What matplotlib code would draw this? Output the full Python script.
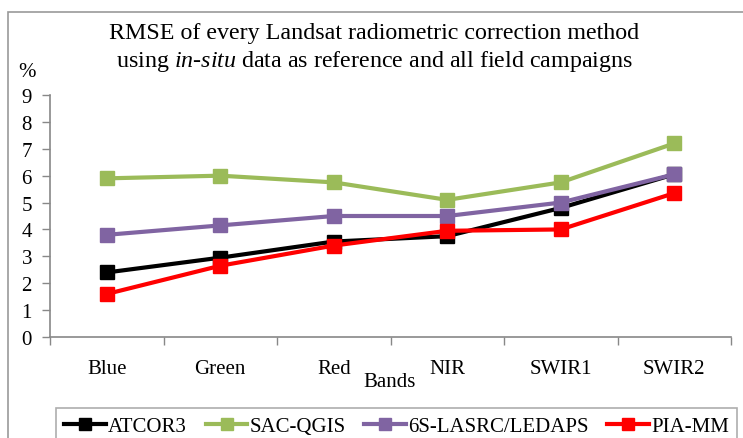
import matplotlib.pyplot as plt
import numpy as np
from matplotlib.patches import Rectangle

bands = ["Blue", "Green", "Red", "NIR", "SWIR1", "SWIR2"]
atcor3 = [2.4, 2.95, 3.55, 3.75, 4.8, 6.05]
sac_qgis = [5.9, 6.0, 5.75, 5.1, 5.75, 7.2]
lasrc = [3.8, 4.15, 4.5, 4.5, 5.0, 6.05]
pia_mm = [1.6, 2.65, 3.4, 3.95, 4.0, 5.35]

names = ["ATCOR3", "SAC-QGIS", "6S-LASRC/LEDAPS", "PIA-MM"]
colors = ["#000000", "#9BBB59", "#8064A2", "#FF0000"]

plt.rcParams['font.family'] = ['Liberation Serif', 'DejaVu Serif']
plt.rcParams['mathtext.fontset'] = 'custom'
plt.rcParams['mathtext.rm'] = 'Liberation Serif'
plt.rcParams['mathtext.it'] = 'Liberation Serif:italic'

fig = plt.figure(figsize=(7.43, 4.39), dpi=100)
ax = fig.add_axes([50/743, 1-338/439, 681/743, 242/439])

x = np.arange(len(bands))
for vals, name, c in zip([atcor3, sac_qgis, lasrc, pia_mm], names, colors):
    ax.plot(x, vals, color=c, lw=3, marker='s', ms=9.5, label=name)

ax.set_xlim(-0.5, 5.5)
ax.set_ylim(0, 9)
ax.set_yticks(range(10))
ax.set_xticks(x)
ax.set_xticklabels(bands, fontsize=15)
ax.set_xticks(np.arange(-0.5, 6, 1), minor=True)
ax.tick_params(axis='x', which='major', length=0, pad=16)
ax.tick_params(axis='x', which='minor', length=6, color='#888888', width=1)
ax.tick_params(axis='y', length=6, color='#888888', width=1, labelsize=15, pad=7)
for s in ['top', 'right']:
    ax.spines[s].set_visible(False)
for s in ['left', 'bottom']:
    ax.spines[s].set_color('#888888')
    ax.spines[s].set_linewidth(1.2)

fig.text(390/743, 1-383/439, "Bands", ha='center', va='center', fontsize=15)
fig.text(27/743, 1-73/439, "%", ha='center', va='center', fontsize=15)
fig.text(374/743, 1-33/439, "RMSE of every Landsat radiometric correction method",
         ha='center', va='center', fontsize=17.3)
fig.text(374/743, 1-62/439, "using $\\mathit{in}$-$\\mathit{situ}$ data as reference and all field campaigns",
         ha='center', va='center', fontsize=17.3)

fig.patches.append(Rectangle((8/743, -0.1), 1.0, 1-13/439+0.1, transform=fig.transFigure,
                             fill=False, edgecolor='#999999', lw=1.2))

leg = fig.legend(loc='upper left', bbox_to_anchor=(56/743, 1-409/439), ncol=4,
                 fontsize=15, frameon=True, fancybox=False, edgecolor='#999999',
                 handlelength=2.0, handletextpad=0.1, columnspacing=0.9,
                 borderpad=0.4, borderaxespad=0, markerscale=0.9)
leg.get_frame().set_linewidth(1.2)

fig.savefig("out.png", dpi=100)
